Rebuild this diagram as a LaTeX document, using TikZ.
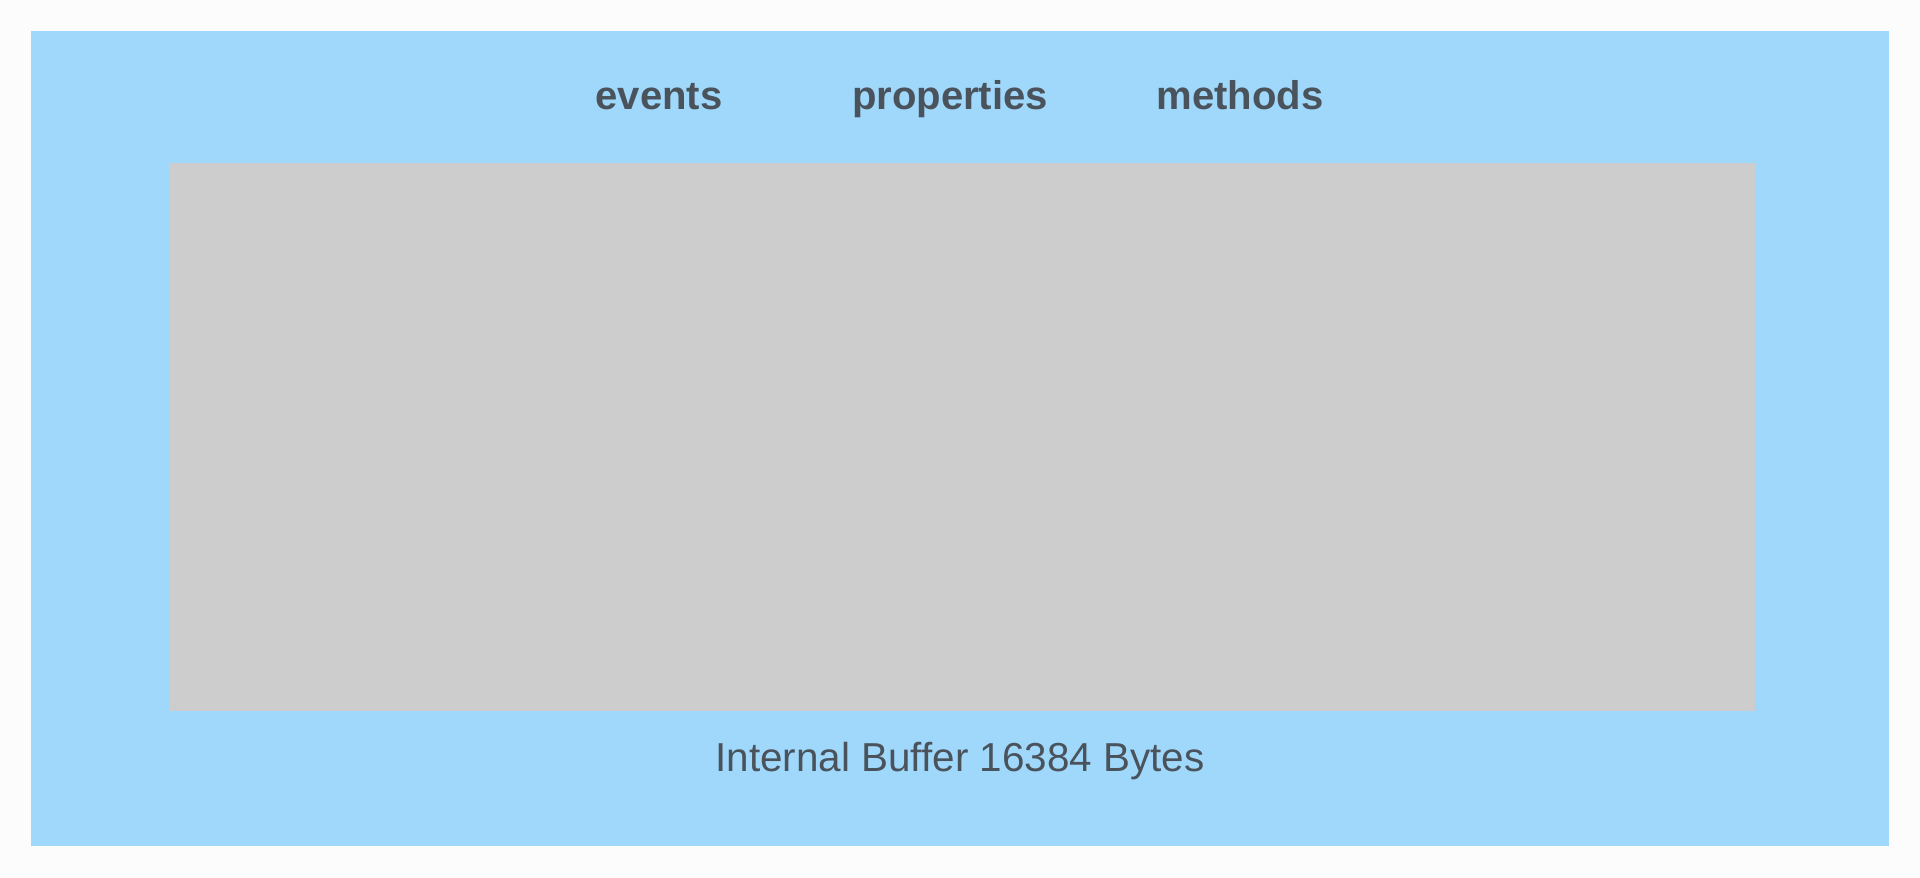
\documentclass[tikz,border=0pt]{standalone}
\usepackage{fontspec}
\setmainfont{Liberation Sans}
\definecolor{bufblue}{HTML}{A0D8FC}
\definecolor{bufgray}{HTML}{CDCDCD}
\definecolor{labelgray}{HTML}{4A535B}
\tikzset{
    label/.style={text=labelgray, anchor=base, inner sep=0pt, font=\fontsize{11.4}{13}\selectfont\bfseries},
    buflabel/.style={text=labelgray, anchor=base, inner sep=0pt, font=\fontsize{11.5}{13}\selectfont}
}
\begin{document}
\begin{tikzpicture}
        \useasboundingbox[fill=white!99!black] (0,0) rectangle (19.2,8.78);
        \node (outer) [fill=bufblue, inner sep=0pt, minimum width=18.58cm, minimum height=8.15cm] at (9.60,4.395) {};
        \node (buffer) [fill=bufgray, inner sep=0pt, minimum width=15.86cm, minimum height=5.48cm] at (9.62,4.41) {};
        \node (events) [label] at (6.59,7.68) {events};
        \node (properties) [label] at (9.50,7.68) {properties};
        \node (methods) [label] at (12.40,7.68) {methods};
        \node (size) [buflabel] at (9.60,1.06) {Internal Buffer 16384 Bytes};
\end{tikzpicture}
\end{document}
